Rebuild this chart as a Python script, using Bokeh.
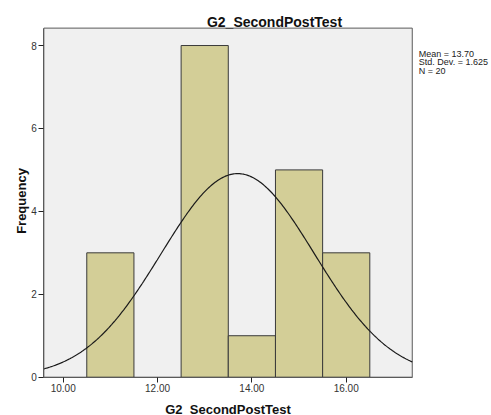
import numpy as np
from bokeh.plotting import figure
from bokeh.models import FixedTicker, Range1d, Label
from bokeh.embed import file_html
from bokeh.resources import INLINE

# ---- data ----
bin_centers = [11, 13, 14, 15, 16]
counts = [3, 8, 1, 5, 3]
bin_width = 1.0
x_ticks = [10, 12, 14, 16]
x_tick_labels = ["10.00", "12.00", "14.00", "16.00"]
y_ticks = [0, 2, 4, 6, 8]
y_tick_labels = ["0", "2", "4", "6", "8"]
stat_mean = 13.70
stat_sd = 1.625
stat_n = 20
stats_lines = ["Mean = 13.70", "Std. Dev. = 1.625", "N = 20"]
title_text = "G2_SecondPostTest"
x_label_text = "G2_SecondPostTest"
y_label_text = "Frequency"

FONT = "Liberation Sans"
X0, X1 = 9.59, 17.40          # visible plot area (x)
Y0, Y1 = 0.0, 8.42            # visible plot area (y)
# the frame spans the whole canvas; texts and axes are drawn inside it
XC0, XC1 = 8.671, 19.080
YC0, YC1 = -0.924, 9.086

p = figure(width=491, height=415, output_backend="svg", toolbar_location=None,
           title=None, x_range=Range1d(XC0, XC1), y_range=Range1d(YC0, YC1),
           min_border=0)
p.background_fill_color = "white"
p.border_fill_color = "white"
p.outline_line_color = None
p.grid.visible = False

# plot area
p.quad(left=[X0], right=[X1], bottom=[Y0], top=[Y1],
       fill_color="#f0f0f0", line_color="#5a5a5a", line_width=1)

left = [c - bin_width / 2 for c in bin_centers]
right = [c + bin_width / 2 for c in bin_centers]
p.quad(left=left, right=right, bottom=0, top=counts,
       fill_color="#d3ce97", line_color="#3a3a3a", line_width=1)

xs = np.linspace(X0, X1, 300)
ys = stat_n * bin_width * np.exp(-0.5 * ((xs - stat_mean) / stat_sd) ** 2) / (stat_sd * np.sqrt(2 * np.pi))
p.line(xs, ys, line_color="#1a1a1a", line_width=1.2)

for ax, ticks, labels in ((p.xaxis[0], x_ticks, x_tick_labels), (p.yaxis[0], y_ticks, y_tick_labels)):
    ax.ticker = FixedTicker(ticks=ticks)
    ax.major_label_overrides = {t: l for t, l in zip(ticks, labels)}
    ax.minor_tick_line_color = None
    ax.major_tick_in = 0
    ax.major_tick_out = 5
    ax.major_tick_line_color = "#222222"
    ax.axis_line_color = "#5a5a5a"
    ax.major_label_text_font = FONT
    ax.major_label_text_font_size = "10px"
    ax.major_label_text_color = "#333333"

p.xaxis.fixed_location = Y0
p.xaxis.bounds = (X0, X1)
p.xaxis.major_label_standoff = 2
p.yaxis.fixed_location = X0
p.yaxis.bounds = (Y0, Y1)
p.yaxis.major_label_standoff = 2

def xd(px):
    return 10 + (px - 62.7) / 47.17

def yd(py):
    return (376.7 - py) / 41.46

p.add_layout(Label(x=xd(274), y=yd(21.5), text=title_text, text_align="center",
                   text_baseline="alphabetic", text_font=FONT, text_font_size="14px",
                   text_font_style="bold", text_color="#111111"))
p.add_layout(Label(x=xd(227.5), y=yd(409.5), text=x_label_text, text_align="center",
                   text_baseline="alphabetic", text_font=FONT, text_font_size="13px",
                   text_font_style="bold", text_color="#111111"))
p.add_layout(Label(x=xd(21), y=yd(200.5), text=y_label_text, text_align="center",
                   text_baseline="alphabetic", angle=np.pi / 2, text_font=FONT,
                   text_font_size="13px", text_font_style="bold", text_color="#111111"))
for i, s in enumerate(stats_lines):
    p.add_layout(Label(x=xd(418.3), y=yd(53.6 + 8.3 * i), text=s, text_align="left",
                       text_baseline="alphabetic", text_font=FONT, text_font_size="9px",
                       text_color="#222222"))

open("out.html", "w").write(file_html(p, INLINE))
